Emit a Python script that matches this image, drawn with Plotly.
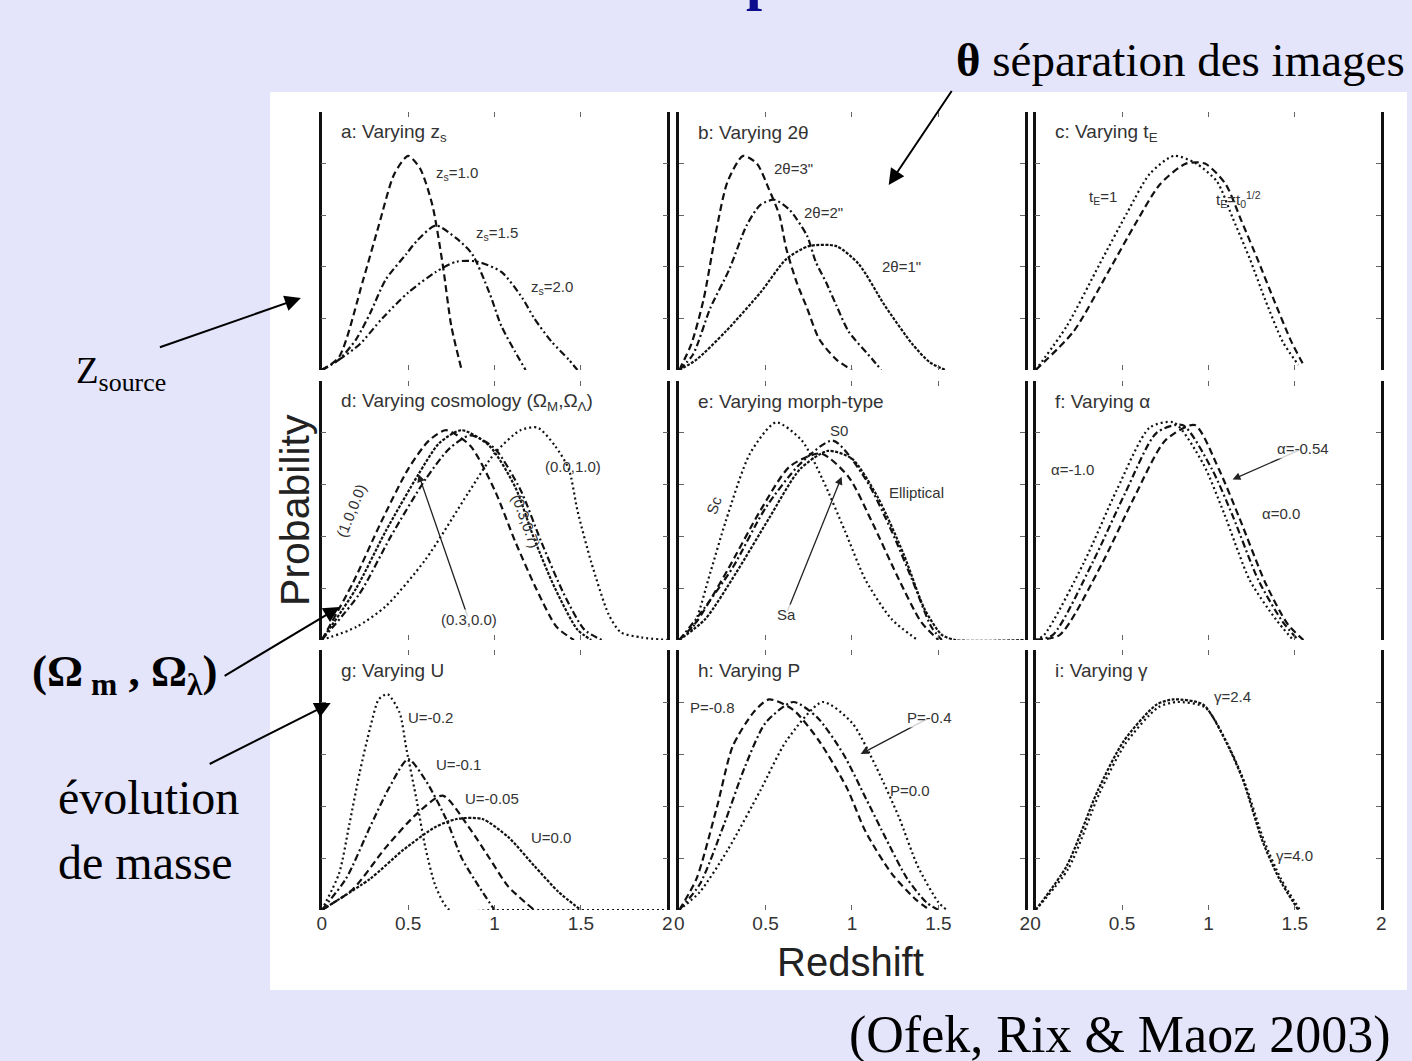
import plotly.graph_objects as go

W, H = 1412, 1061

# ---------------- data ----------------
# a: varying z_s
a_z_zs10 = [0, 0.1, 0.24, 0.33, 0.42, 0.5, 0.57, 0.64, 0.7, 0.75, 0.81]
a_p_zs10 = [0, 0.05, 0.35, 0.56, 0.76, 0.83, 0.78, 0.64, 0.41, 0.17, 0]
a_z_zs15 = [0, 0.1, 0.2, 0.28, 0.37, 0.49, 0.55, 0.66, 0.78, 0.87, 0.97, 1.04, 1.12, 1.18]
a_p_zs15 = [0, 0.04, 0.12, 0.22, 0.35, 0.45, 0.5, 0.56, 0.51, 0.45, 0.3, 0.17, 0.07, 0]
a_z_zs20 = [0, 0.1, 0.22, 0.35, 0.5, 0.66, 0.78, 0.9, 1.04, 1.16, 1.23, 1.33, 1.43, 1.48]
a_p_zs20 = [0, 0.04, 0.1, 0.2, 0.3, 0.38, 0.42, 0.42, 0.38, 0.28, 0.2, 0.11, 0.04, 0]

# b: varying 2 theta
b_z_th3 = [0, 0.07, 0.14, 0.22, 0.28, 0.37, 0.45, 0.52, 0.58, 0.62, 0.68, 0.74, 0.81, 0.91, 1.0]
b_p_th3 = [0, 0.1, 0.27, 0.56, 0.73, 0.83, 0.8, 0.70, 0.60, 0.47, 0.34, 0.24, 0.12, 0.04, 0]
b_z_th2 = [0, 0.08, 0.18, 0.29, 0.39, 0.47, 0.55, 0.64, 0.74, 0.79, 0.85, 0.91, 0.98, 1.12, 1.17]
b_p_th2 = [0, 0.06, 0.24, 0.39, 0.56, 0.64, 0.66, 0.62, 0.52, 0.42, 0.34, 0.25, 0.15, 0.04, 0]
b_z_th1 = [0, 0.1, 0.27, 0.47, 0.62, 0.75, 0.91, 1.04, 1.19, 1.35, 1.45, 1.54]
b_p_th1 = [0, 0.04, 0.15, 0.30, 0.43, 0.48, 0.48, 0.41, 0.25, 0.1, 0.03, 0]

# c: varying t_E
c_z_t1 = [0, 0.18, 0.37, 0.53, 0.66, 0.8, 0.93, 1.05, 1.14, 1.24, 1.33, 1.43, 1.52]
c_p_t1 = [0, 0.17, 0.41, 0.61, 0.76, 0.83, 0.8, 0.73, 0.59, 0.43, 0.27, 0.11, 0.02]
c_z_t2 = [0, 0.22, 0.42, 0.58, 0.72, 0.87, 0.98, 1.1, 1.19, 1.29, 1.38, 1.48, 1.55]
c_p_t2 = [0, 0.15, 0.38, 0.57, 0.72, 0.8, 0.8, 0.72, 0.58, 0.42, 0.27, 0.11, 0.02]

# d: varying cosmology
d_z_0307 = [0, 0.2, 0.37, 0.56, 0.68, 0.81, 0.97, 1.12, 1.23, 1.35, 1.48, 1.56]
d_p_0307 = [0, 0.2, 0.42, 0.64, 0.76, 0.81, 0.75, 0.59, 0.39, 0.2, 0.04, 0]
d_z_1000 = [0, 0.18, 0.34, 0.5, 0.62, 0.72, 0.86, 1.0, 1.12, 1.24, 1.36, 1.46]
d_p_1000 = [0, 0.22, 0.45, 0.66, 0.77, 0.81, 0.75, 0.58, 0.38, 0.2, 0.05, 0]
d_z_0300 = [0, 0.22, 0.4, 0.6, 0.74, 0.86, 1.0, 1.15, 1.27, 1.4, 1.52, 1.62]
d_p_0300 = [0, 0.18, 0.4, 0.62, 0.74, 0.79, 0.74, 0.58, 0.38, 0.18, 0.04, 0]
d_z_0010 = [0, 0.2, 0.37, 0.6, 0.85, 1.0, 1.15, 1.25, 1.35, 1.43, 1.48, 1.56, 1.66, 1.73, 1.85, 2.0]
d_p_0010 = [0, 0.05, 0.13, 0.31, 0.57, 0.72, 0.81, 0.82, 0.75, 0.66, 0.5, 0.3, 0.1, 0.03, 0.01, 0]

# e: varying morph-type
e_z_sc = [0, 0.08, 0.18, 0.27, 0.41, 0.56, 0.71, 0.83, 0.96, 1.08, 1.23, 1.38]
e_p_sc = [0, 0.05, 0.26, 0.46, 0.72, 0.84, 0.77, 0.62, 0.42, 0.23, 0.08, 0]
e_z_s0 = [0, 0.12, 0.31, 0.5, 0.7, 0.89, 1.08, 1.23, 1.35, 1.46, 1.52]
e_p_s0 = [0, 0.1, 0.28, 0.51, 0.68, 0.77, 0.62, 0.42, 0.23, 0.05, 0]
e_z_el = [0, 0.15, 0.33, 0.52, 0.7, 0.86, 1.0, 1.15, 1.3, 1.42, 1.52, 1.6, 2.0]
e_p_el = [0, 0.08, 0.26, 0.47, 0.66, 0.73, 0.7, 0.55, 0.33, 0.12, 0.02, 0, 0]
e_z_sa = [0, 0.1, 0.28, 0.47, 0.64, 0.82, 0.98, 1.12, 1.26, 1.4, 1.5]
e_p_sa = [0, 0.07, 0.27, 0.5, 0.67, 0.72, 0.63, 0.45, 0.25, 0.07, 0]

# f: varying alpha
f_z_a10 = [0, 0.05, 0.28, 0.47, 0.66, 0.8, 0.97, 1.09, 1.24, 1.39, 1.49]
f_p_a10 = [0, 0.02, 0.30, 0.58, 0.82, 0.84, 0.68, 0.49, 0.23, 0.08, 0]
f_z_a54 = [0, 0.1, 0.33, 0.52, 0.7, 0.85, 1.02, 1.14, 1.29, 1.43, 1.52]
f_p_a54 = [0, 0.02, 0.30, 0.57, 0.80, 0.83, 0.66, 0.48, 0.23, 0.07, 0]
f_z_a00 = [0, 0.14, 0.38, 0.57, 0.75, 0.92, 1.06, 1.18, 1.33, 1.46, 1.55]
f_p_a00 = [0, 0.02, 0.29, 0.55, 0.77, 0.83, 0.66, 0.47, 0.22, 0.06, 0]

# g: varying U
g_z_u02 = [0, 0.1, 0.16, 0.22, 0.28, 0.33, 0.38, 0.45, 0.49, 0.55, 0.6, 0.66, 0.74, 1.0, 1.5, 2.0]
g_p_u02 = [0, 0.14, 0.33, 0.53, 0.70, 0.81, 0.83, 0.76, 0.62, 0.42, 0.24, 0.09, 0, 0, 0, 0]
g_z_u01 = [0, 0.14, 0.28, 0.39, 0.5, 0.6, 0.72, 0.81, 0.91, 1.0]
g_p_u01 = [0, 0.12, 0.32, 0.47, 0.58, 0.5, 0.35, 0.2, 0.09, 0]
g_z_u005 = [0, 0.18, 0.37, 0.55, 0.7, 0.85, 0.97, 1.08, 1.23]
g_p_u005 = [0, 0.08, 0.24, 0.37, 0.44, 0.32, 0.2, 0.09, 0]
g_z_u00 = [0, 0.28, 0.47, 0.66, 0.78, 0.93, 1.08, 1.23, 1.37, 1.5]
g_p_u00 = [0, 0.12, 0.23, 0.32, 0.35, 0.35, 0.28, 0.17, 0.07, 0]

# h: varying P
h_z_p08 = [0, 0.1, 0.22, 0.31, 0.43, 0.52, 0.66, 0.81, 0.97, 1.08, 1.23, 1.37, 1.45]
h_p_p08 = [0, 0.12, 0.4, 0.63, 0.76, 0.81, 0.77, 0.65, 0.47, 0.3, 0.14, 0.04, 0]
h_z_p04 = [0, 0.12, 0.26, 0.38, 0.5, 0.66, 0.8, 0.95, 1.08, 1.2, 1.32, 1.43, 1.5]
h_p_p04 = [0, 0.1, 0.33, 0.55, 0.72, 0.8, 0.74, 0.6, 0.43, 0.27, 0.12, 0.03, 0]
h_z_p00 = [0, 0.12, 0.28, 0.47, 0.62, 0.83, 1.0, 1.14, 1.27, 1.38, 1.5, 1.55]
h_p_p00 = [0, 0.07, 0.23, 0.46, 0.65, 0.8, 0.72, 0.55, 0.36, 0.17, 0.03, 0]

# i: varying gamma
i_z_g24 = [0, 0.18, 0.36, 0.51, 0.7, 0.8, 0.97, 1.1, 1.2, 1.31, 1.41, 1.52]
i_p_g24 = [0, 0.17, 0.46, 0.65, 0.79, 0.81, 0.79, 0.65, 0.5, 0.27, 0.12, 0]
i_z_g40 = [0, 0.19, 0.37, 0.52, 0.71, 0.82, 0.98, 1.11, 1.21, 1.32, 1.42, 1.53]
i_p_g40 = [0, 0.16, 0.45, 0.64, 0.78, 0.80, 0.78, 0.64, 0.49, 0.27, 0.12, 0]

x_ticks = [0, 0.5, 1, 1.5, 2]
x_ticktext = ["0", "0.5", "1", "1.5", "2"]

panel_titles = ["a: Varying z<sub>s</sub>", "b: Varying 2θ", "c: Varying t<sub>E</sub>",
                "d: Varying cosmology (Ω<sub>M</sub>,Ω<sub>Λ</sub>)", "e: Varying morph-type",
                "f: Varying α", "g: Varying U", "h: Varying P", "i: Varying γ"]

# ---------------- styles ----------------
DASH = "7px,4px"
DASHDOT = "7px,3px,2px,3px"
DASHDOTDOT = "7px,3px,2px,3px,2px,3px"
DOT = "2px,3px"
SDOT = "3px,1.5px"
INK = "#111111"

panels = [
    [(a_z_zs10, a_p_zs10, DASH), (a_z_zs15, a_p_zs15, DASHDOT), (a_z_zs20, a_p_zs20, DASHDOTDOT)],
    [(b_z_th3, b_p_th3, DASH), (b_z_th2, b_p_th2, DASHDOT), (b_z_th1, b_p_th1, SDOT)],
    [(c_z_t1, c_p_t1, DOT), (c_z_t2, c_p_t2, DASH)],
    [(d_z_0307, d_p_0307, SDOT), (d_z_1000, d_p_1000, DASH), (d_z_0300, d_p_0300, DASHDOT), (d_z_0010, d_p_0010, DOT)],
    [(e_z_sc, e_p_sc, DOT), (e_z_s0, e_p_s0, DASHDOT), (e_z_el, e_p_el, SDOT), (e_z_sa, e_p_sa, DASH)],
    [(f_z_a10, f_p_a10, DOT), (f_z_a54, f_p_a54, DASHDOT), (f_z_a00, f_p_a00, DASH)],
    [(g_z_u02, g_p_u02, DOT), (g_z_u01, g_p_u01, DASHDOT), (g_z_u005, g_p_u005, DASH), (g_z_u00, g_p_u00, SDOT)],
    [(h_z_p08, h_p_p08, DASH), (h_z_p04, h_p_p04, DASHDOT), (h_z_p00, h_p_p00, DOT)],
    [(i_z_g24, i_p_g24, SDOT), (i_z_g40, i_p_g40, DOT)],
]

cols_px = [(319, 667), (679, 1027), (1038, 1386)]
rows_px = [(112, 370), (381, 640), (650, 910)]

fig = go.Figure()
layout = dict(
    width=W, height=H, margin=dict(l=0, r=0, t=0, b=0),
    paper_bgcolor="#E4E4FA", plot_bgcolor="rgba(0,0,0,0)", showlegend=False,
)

for k in range(9):
    r, c = divmod(k, 3)
    n = k + 1
    xs = "" if n == 1 else str(n)
    x0, x1 = cols_px[c]
    y0, y1 = rows_px[r]
    layout["xaxis" + xs] = dict(
        domain=[x0 / W, x1 / W], anchor="y" + xs, range=[0, 2],
        showline=False, showgrid=False, zeroline=False,
        ticks="inside", ticklen=5, tickcolor="#666", mirror="ticks",
        tickvals=x_ticks, ticktext=x_ticktext,
        showticklabels=(r == 2),
        tickfont=dict(family="Liberation Sans", size=19, color="#333"),
    )
    layout["yaxis" + xs] = dict(
        domain=[1 - y1 / H, 1 - y0 / H], anchor="x" + xs, range=[0, 1],
        showline=True, linecolor="#111", linewidth=2.5, mirror="ticks",
        showgrid=False, zeroline=False, ticks="inside", ticklen=5, tickcolor="#666",
        tickvals=[0.2, 0.4, 0.6, 0.8], showticklabels=False,
    )
    for zz, pp, dsh in panels[k]:
        fig.add_trace(go.Scatter(
            x=zz, y=pp, mode="lines", xaxis="x" + xs, yaxis="y" + xs,
            line=dict(color=INK, width=2.2, dash=dsh, shape="spline", smoothing=0.7),
            hoverinfo="skip",
        ))

fig.update_layout(**layout)

ann = []
sub_font = dict(family="Liberation Sans", size=19, color="#333")
lab_font = dict(family="Liberation Sans", size=15, color="#333")


def axref(n):
    return ("x" if n == 1 else "x%d" % n), ("y" if n == 1 else "y%d" % n)


for k in range(9):
    xr, yr = axref(k + 1)
    ann.append(dict(x=0.1, y=0.92, xref=xr, yref=yr, text=panel_titles[k], showarrow=False,
                    xanchor="left", yanchor="middle", font=sub_font))

curve_labels = [
    (1, 0.65, 0.76, "z<sub>s</sub>=1.0", 0),
    (1, 0.88, 0.53, "z<sub>s</sub>=1.5", 0),
    (1, 1.2, 0.32, "z<sub>s</sub>=2.0", 0),
    (2, 0.54, 0.78, "2θ=3\"", 0),
    (2, 0.71, 0.61, "2θ=2\"", 0),
    (2, 1.16, 0.40, "2θ=1\"", 0),
    (3, 0.3, 0.67, "t<sub>E</sub>=1", 0),
    (3, 1.03, 0.66, "t<sub>E</sub>=t<sub>0</sub><sup>1/2</sup>", 0),
    (4, 0.17, 0.5, "(1.0,0.0)", -68),
    (4, 1.18, 0.46, "(0.3,0.7)", 70),
    (4, 1.28, 0.67, "(0.0,1.0)", 0),
    (5, 0.86, 0.81, "S0", 0),
    (5, 1.2, 0.57, "Elliptical", 0),
    (5, 0.2, 0.52, "Sc", -70),
    (6, 0.08, 0.66, "α=-1.0", 0),
    (6, 1.3, 0.49, "α=0.0", 0),
    (7, 0.49, 0.74, "U=-0.2", 0),
    (7, 0.65, 0.56, "U=-0.1", 0),
    (7, 0.82, 0.43, "U=-0.05", 0),
    (7, 1.2, 0.28, "U=0.0", 0),
    (8, 0.05, 0.78, "P=-0.8", 0),
    (8, 1.21, 0.46, "P=0.0", 0),
    (9, 1.02, 0.82, "γ=2.4", 0),
    (9, 1.38, 0.21, "γ=4.0", 0),
]
for n, x, y, t, ang in curve_labels:
    xr, yr = axref(n)
    ann.append(dict(x=x, y=y, xref=xr, yref=yr, text=t, showarrow=False, textangle=ang,
                    xanchor="left" if ang == 0 else "center", yanchor="middle", font=lab_font))

# labels with arrows inside the panels: (panel, text x, text y, tip x, tip y, text)
arrow_labels = [
    (4, 0.85, 0.08, 0.56, 0.64, "(0.3,0.0)"),
    (5, 0.62, 0.1, 0.94, 0.63, "Sa"),
    (6, 1.55, 0.74, 1.14, 0.62, "α=-0.54"),
    (8, 1.45, 0.74, 1.05, 0.6, "P=-0.4"),
]
for n, tx, ty, hx, hy, t in arrow_labels:
    xr, yr = axref(n)
    ann.append(dict(x=hx, y=hy, ax=tx, ay=ty, xref=xr, yref=yr, axref=xr, ayref=yr,
                    text=" ", showarrow=True, arrowhead=2, arrowsize=1.2, arrowwidth=1.3,
                    arrowcolor="#222", font=dict(size=2)))
    ann.append(dict(x=tx, y=ty, xref=xr, yref=yr, text=t, showarrow=False,
                    xanchor="center", yanchor="middle", font=lab_font,
                    bgcolor="rgba(255,255,255,0.8)"))


def P(px, py):
    return px / W, 1 - py / H


def text_at(px, py, text, font, xanchor="center", **kw):
    x, y = P(px, py)
    ann.append(dict(x=x, y=y, xref="paper", yref="paper", text=text, showarrow=False,
                    xanchor=xanchor, yanchor=kw.pop("yanchor", "middle"), font=font, **kw))


serif = "Liberation Serif"
# axis titles
text_at(292, 510, "Probability", dict(family="Liberation Sans", size=41, color="#222"), textangle=-90)
text_at(852, 962, "Redshift", dict(family="Liberation Sans", size=40, color="#222"))

# slide texts
text_at(1412, 60, "<b>θ</b> séparation des images", dict(family=serif, size=47, color="black"),
        xanchor="right")
text_at(117, 374, "Z<sub>source</sub>", dict(family=serif, size=37, color="black"))
text_at(120, 674, "<b>(Ω<sub> m</sub> , Ω<sub>λ</sub>)</b>", dict(family=serif, size=45, color="black"))
text_at(145, 797, "évolution", dict(family=serif, size=48, color="black"))
text_at(141, 862, "de masse", dict(family=serif, size=48, color="black"))
text_at(1123, 1035, "(Ofek, Rix &amp; Maoz 2003)", dict(family=serif, size=52, color="black"))
text_at(744, 14, "<b>p</b>", dict(family=serif, size=58, color="#0C0C8C"), xanchor="left",
        yanchor="bottom")

# slide arrows: (tail px, tail py, tip px, tip py)
slide_arrows = [(955, 88, 890, 185), (155, 348, 298, 298), (220, 677, 337, 607), (205, 765, 328, 703)]
for tx, ty, hx, hy in slide_arrows:
    x, y = P(hx, hy)
    ann.append(dict(x=x, y=y, xref="paper", yref="paper", ax=tx - hx, ay=ty - hy,
                    text=" ", showarrow=True, arrowhead=2, arrowsize=1.6, arrowwidth=2,
                    arrowcolor="black", font=dict(size=2)))

fig.update_layout(annotations=ann)

# white picture area of the slide
fig.add_shape(type="rect", xref="paper", yref="paper", x0=267 / W, x1=1.0,
              y0=1 - 990 / H, y1=1 - 92 / H, fillcolor="white", line=dict(width=0),
              layer="below")

fig.write_html("out.html", config={"displayModeBar": False},
               post_script="document.body.style.margin='0';document.body.style.overflow='hidden';")
